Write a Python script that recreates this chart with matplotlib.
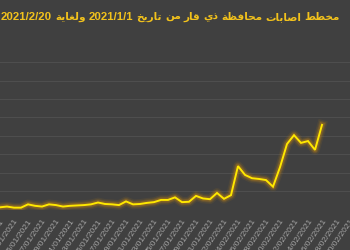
import numpy as np
import matplotlib
matplotlib.use("Agg")
import matplotlib.pyplot as plt

# daily cases, day 1 = 01/01/2021
days = list(range(1, 48))
cases = [6, 8, 5, 5, 14, 10, 8, 14, 12, 8,
         10, 11, 12, 14, 19, 15, 14, 12, 22, 14,
         15, 18, 20, 26, 26, 33, 20, 21, 37, 30,
         28, 45, 29, 39, 118, 94, 85, 83, 80, 62,
         115, 178, 202, 181, 186, 162, 230]

title_parts = ["مخطط", "اصابات", "محافظة", "ذي", "قار", "من", "تاريخ",
               "2021/1/1", "ولغاية", "2021/2/20"]

# small arabic shaper (matplotlib has no shaping / bidi)
FORMS = {
    'ا': ('\uFE8D', '\uFE8E', None, None),
    'ب': ('\uFE8F', '\uFE90', '\uFE91', '\uFE92'),
    'ة': ('\uFE93', '\uFE94', None, None),
    'ت': ('\uFE95', '\uFE96', '\uFE97', '\uFE98'),
    'ح': ('\uFEA1', '\uFEA2', '\uFEA3', '\uFEA4'),
    'خ': ('\uFEA5', '\uFEA6', '\uFEA7', '\uFEA8'),
    'ذ': ('\uFEAB', '\uFEAC', None, None),
    'ر': ('\uFEAD', '\uFEAE', None, None),
    'ص': ('\uFEB9', '\uFEBA', '\uFEBB', '\uFEBC'),
    'ط': ('\uFEC1', '\uFEC2', '\uFEC3', '\uFEC4'),
    'ظ': ('\uFEC5', '\uFEC6', '\uFEC7', '\uFEC8'),
    'غ': ('\uFECD', '\uFECE', '\uFECF', '\uFED0'),
    'ف': ('\uFED1', '\uFED2', '\uFED3', '\uFED4'),
    'ق': ('\uFED5', '\uFED6', '\uFED7', '\uFED8'),
    'ل': ('\uFEDD', '\uFEDE', '\uFEDF', '\uFEE0'),
    'م': ('\uFEE1', '\uFEE2', '\uFEE3', '\uFEE4'),
    'ن': ('\uFEE5', '\uFEE6', '\uFEE7', '\uFEE8'),
    'و': ('\uFEED', '\uFEEE', None, None),
    'ي': ('\uFEF1', '\uFEF2', '\uFEF3', '\uFEF4'),
}


def shape(word):
    if word[0] not in FORMS:
        return word
    out = []
    for i, ch in enumerate(word):
        f = FORMS[ch]
        prev = i > 0 and FORMS[word[i - 1]][2] is not None
        nxt = f[2] is not None and i < len(word) - 1
        if prev and nxt:
            out.append(f[3])
        elif prev:
            out.append(f[1])
        elif nxt:
            out.append(f[2])
        else:
            out.append(f[0])
    return "".join(reversed(out))


BG = "#404040"
TITLE_C = "#f2c21c"
fig = plt.figure(figsize=(3.5, 2.5), dpi=100, facecolor=BG)
ax = fig.add_axes([0, (250 - 209.5) / 250, 1, (209.5 - 62.3) / 250])
ax.set_facecolor(BG)

# glow under the line
for lw, a in [(7, 0.10), (5, 0.18), (3.5, 0.30)]:
    ax.plot(days, cases, color="#c8860f", lw=lw, alpha=a, solid_joinstyle="round")
ax.plot(days, cases, color="#ffe800", lw=1.4, solid_joinstyle="miter")

ax.set_xlim(3.76, 3.76 + 350 / 8.25)
ax.set_ylim(0, 400)
ax.set_yticks(np.arange(0, 401, 50))
ax.grid(axis="y", color="#4e4e4e", lw=0.8)
ax.set_axisbelow(True)
for s in ax.spines.values():
    s.set_visible(False)
ax.tick_params(axis="y", left=False, labelleft=False)

tick_days = list(range(1, 52, 2))
tick_labels = []
for d in tick_days:
    if d <= 31:
        tick_labels.append(f"{d:02d}/01/2021")
    else:
        tick_labels.append(f"{d - 31:02d}/02/2021")
ax.set_xticks(tick_days)
ax.set_xticklabels(tick_labels, rotation=55, ha="right", rotation_mode="anchor",
                   fontsize=6, color="#a6a6a6", family="Liberation Sans")
ax.tick_params(axis="x", length=0, pad=6)

# title: laid out word by word, right to left (numbers in Liberation, arabic in DejaVu)
renderer = fig.canvas.get_renderer()
num_size = 8.2
right_px, left_px, gap_px, y_px = 340.0, 0.5, 3.0, 17.0


def word_width(txt, size, fam):
    t = fig.text(0, 0, txt, fontsize=size, fontweight="bold", family=fam)
    w = t.get_window_extent(renderer).width
    t.remove()
    return w


words = []
for w in title_parts:
    is_num = w[0] not in FORMS
    fam = ["Liberation Sans"] if is_num else ["DejaVu Sans"]
    words.append((shape(w), is_num, fam))

num_w = sum(word_width(t, num_size, f) for t, n, f in words if n)
ar_w10 = sum(word_width(t, 10, f) for t, n, f in words if not n)
avail = right_px - left_px - gap_px * (len(words) - 1) - num_w
ar_size = 10 * avail / ar_w10

x = right_px
for txt, is_num, fam in words:
    size = num_size if is_num else ar_size
    t = fig.text(x / 350, 1 - y_px / 250, txt, ha="right", va="center", color=TITLE_C,
                 fontsize=size, fontweight="bold", family=fam)
    x -= t.get_window_extent(renderer).width + gap_px

fig.savefig("out.png", dpi=100, facecolor=BG)
